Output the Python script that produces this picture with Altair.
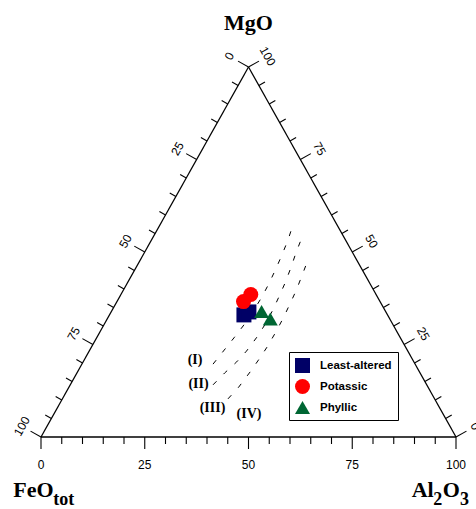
import math
import altair as alt
import pandas as pd

# ---------------- data ----------------
sample_group = ["Least-altered", "Least-altered", "Potassic", "Potassic", "Phyllic", "Phyllic"]
sample_feo = [34.6, 33.0, 32.9, 30.2, 29.9, 28.8]
sample_mgo = [33.0, 33.8, 36.6, 38.5, 33.9, 31.9]
sample_al2o3 = [32.4, 33.2, 30.5, 31.3, 36.2, 39.3]

group_order = ["Least-altered", "Potassic", "Phyllic"]
group_colors = ["#000066", "#ff0000", "#006633"]
group_shapes = ["square", "circle", "triangle-up"]

# dashed field boundaries (MgO, Al2O3 in wt%, FeOtot = remainder)
curve_I_mgo = [19.7, 23.5, 26.8, 30.0, 33.8, 37.6, 41.4, 45.1, 48.9, 53.2, 57.6]
curve_I_al2o3 = [31.6, 32.4, 33.1, 33.7, 34.1, 34.3, 34.2, 33.9, 33.5, 32.9, 32.0]
curve_II_mgo = [14.1, 17.3, 20.3, 23.2, 26.8, 30.5, 34.3, 37.8, 41.6, 46.0, 50.0, 54.1]
curve_II_al2o3 = [34.4, 35.6, 37.0, 37.9, 38.5, 38.8, 38.7, 38.4, 38.0, 37.3, 36.5, 35.9]
curve_III_mgo = [10.3, 13.5, 17.6, 20.8, 24.1, 28.1, 32.2, 36.0, 39.5, 43.5, 47.8]
curve_III_al2o3 = [39.9, 40.9, 41.6, 42.0, 42.3, 42.4, 42.3, 42.0, 41.7, 41.1, 40.4]

field_labels = ["(I)", "(II)", "(III)", "(IV)"]

tick_values = list(range(0, 101, 5))
major_ticks = [0, 25, 50, 75, 100]

# ---------------- layout ----------------
W, H = 476, 509
X_LEFT, X_RIGHT = 41.0, 456.0
Y_BASE, Y_APEX = 437.0, 67.0
sx = (X_RIGHT - X_LEFT) / 100.0
sy = (Y_BASE - Y_APEX) / 100.0
x_dom = [-X_LEFT / sx, (W - X_LEFT) / sx]
y_dom = [(Y_BASE - H) / sy, Y_BASE / sy]
XS = alt.Scale(domain=x_dom, nice=False, zero=False)
YS = alt.Scale(domain=y_dom, nice=False, zero=False)

SANS = "Liberation Sans"
SERIF = "Liberation Serif"


def tern(fe, mg, al):
    t = fe + mg + al
    mg = 100.0 * mg / t
    al = 100.0 * al / t
    return al + mg / 2.0, mg


# edge outward normals (pixel space), converted to data units per pixel
ex, ey = 50 * sx, 100 * sy
elen = math.hypot(ex, ey)
nxp, nyp = ey / elen, ex / elen
edge_angle = math.degrees(math.atan2(ey, ex))

MAJ_LEN, MIN_LEN, LAB_OFF, BOT_LAB = 12, 7, 22, 28

tick_rows = []
lab_bottom, lab_left, lab_right = [], [], []
for v in tick_values:
    L = MAJ_LEN if v in major_ticks else MIN_LEN
    # bottom axis (Al2O3)
    tick_rows.append(dict(x=v, y=0, x2=v, y2=-L / sy))
    # left edge (FeOtot)
    lx, ly = (100 - v) / 2.0, 100 - v
    tick_rows.append(dict(x=lx, y=ly, x2=lx - nxp * L / sx, y2=ly + nyp * L / sy))
    # right edge (MgO)
    rx, ry = 100 - v / 2.0, v
    tick_rows.append(dict(x=rx, y=ry, x2=rx + nxp * L / sx, y2=ry + nyp * L / sy))
    if v in major_ticks:
        lab_bottom.append(dict(x=v, y=-BOT_LAB / sy, t=str(v)))
        lab_left.append(dict(x=lx - nxp * LAB_OFF / sx, y=ly + nyp * LAB_OFF / sy, t=str(v)))
        lab_right.append(dict(x=rx + nxp * LAB_OFF / sx, y=ry + nyp * LAB_OFF / sy, t=str(v)))

ticks_df = pd.DataFrame(tick_rows)

verts = [(100, 0, 0), (0, 0, 100), (0, 100, 0)]  # (fe, mg, al) for FeO, Al2O3, MgO vertices
vxy = [tern(*v) for v in verts]
edges_df = pd.DataFrame([
    dict(x=vxy[i][0], y=vxy[i][1], x2=vxy[(i + 1) % 3][0], y2=vxy[(i + 1) % 3][1]) for i in range(3)
])

# samples
pts = []
for g, fe, mg, al in zip(sample_group, sample_feo, sample_mgo, sample_al2o3):
    x, y = tern(fe, mg, al)
    pts.append(dict(group=g, x=x, y=y))
pts_df = pd.DataFrame(pts)

# curves
curves = [("I", curve_I_mgo, curve_I_al2o3), ("II", curve_II_mgo, curve_II_al2o3),
          ("III", curve_III_mgo, curve_III_al2o3)]
crow = []
for name, mgs, als in curves:
    for i, (mg, al) in enumerate(zip(mgs, als)):
        x, y = tern(100 - mg - al, mg, al)
        crow.append(dict(curve=name, i=i, x=x, y=y))
curves_df = pd.DataFrame(crow)

enc = dict(x=alt.X("x:Q", scale=XS, axis=None), y=alt.Y("y:Q", scale=YS, axis=None))
enc2 = dict(enc, x2="x2:Q", y2="y2:Q")

edges = alt.Chart(edges_df).mark_rule(color="black", strokeWidth=1.3).encode(**enc2)
ticks = alt.Chart(ticks_df).mark_rule(color="black", strokeWidth=1.1).encode(**enc2)

lab_b = alt.Chart(pd.DataFrame(lab_bottom)).mark_text(
    font=SANS, fontSize=12, color="black", baseline="middle", align="center").encode(text="t:N", **enc)
lab_l = alt.Chart(pd.DataFrame(lab_left)).mark_text(
    font=SANS, fontSize=12, color="black", baseline="middle", align="center",
    angle=360 - edge_angle).encode(text="t:N", **enc)
lab_r = alt.Chart(pd.DataFrame(lab_right)).mark_text(
    font=SANS, fontSize=12, color="black", baseline="middle", align="center",
    angle=edge_angle).encode(text="t:N", **enc)

curve_layer = alt.Chart(curves_df).mark_line(
    color="black", strokeWidth=1, strokeDash=[5, 10]).encode(
    detail="curve:N", order="i:Q", **enc)

# field labels anchored to the lower ends of the boundaries
field_anchor = [(0, -18, -4), (1, -14.5, -1), (2, -15.5, 9), (2, 21, 15)]
field_layers = []
for txt, (ci, dx, dy) in zip(field_labels, field_anchor):
    name = curves[ci][0]
    row = curves_df[(curves_df.curve == name) & (curves_df.i == 0)].assign(t=txt)
    field_layers.append(alt.Chart(row).mark_text(
        font=SERIF, fontWeight="bold", fontSize=14, color="black",
        align="center", baseline="middle", dx=dx, dy=dy).encode(text="t:N", **enc))

legend = alt.Legend(title=None, orient="none", legendX=289, legendY=352, padding=6,
                    strokeColor="black", fillColor="white", symbolSize=225,
                    labelFont=SANS, labelFontWeight="bold", labelFontSize=11.5,
                    labelColor="black", labelOffset=10, rowPadding=6,
                    symbolStrokeWidth=0, symbolOpacity=1)
points = alt.Chart(pts_df).mark_point(filled=True, opacity=1).encode(
    color=alt.Color("group:N", scale=alt.Scale(domain=group_order, range=group_colors), legend=legend),
    shape=alt.Shape("group:N", scale=alt.Scale(domain=group_order, range=group_shapes), legend=legend),
    size=alt.Size("group:N", scale=alt.Scale(domain=group_order, range=[225, 225, 380]), legend=None),
    **enc)

# axis titles anchored at the vertices
apex = pd.DataFrame([dict(x=vxy[2][0], y=vxy[2][1])])
left_v = pd.DataFrame([dict(x=vxy[0][0], y=vxy[0][1])])
right_v = pd.DataFrame([dict(x=vxy[1][0], y=vxy[1][1])])


def title_txt(df, txt, dx, dy, size):
    return alt.Chart(df.assign(t=txt)).mark_text(
        font=SERIF, fontWeight="bold", fontSize=size, color="black",
        align="left", baseline="alphabetic", dx=dx, dy=dy).encode(text="t:N", **enc)


mgo_title = alt.Chart(apex.assign(t="MgO")).mark_text(
    font=SERIF, fontWeight="bold", fontSize=22, color="black",
    align="center", baseline="alphabetic", dy=-37).encode(text="t:N", **enc)
titles = [
    mgo_title,
    title_txt(left_v, "FeO", -27.7, 60, 22),
    title_txt(left_v, "tot", 12.3, 68, 18),
    title_txt(right_v, "Al", -44.3, 60, 22),
    title_txt(right_v, "2", -22.7, 68, 18),
    title_txt(right_v, "O", -13.3, 60, 22),
    title_txt(right_v, "3", 4, 68, 18),
]

chart = alt.layer(
    edges, ticks, lab_b, lab_l, lab_r, curve_layer, *field_layers, points, *titles
).properties(
    width=W, height=H, padding=0, autosize=alt.AutoSizeParams(type="none"),
    background="white"
).configure_view(stroke=None)

chart.save("out.html", embed_options={"renderer": "svg", "actions": False})
